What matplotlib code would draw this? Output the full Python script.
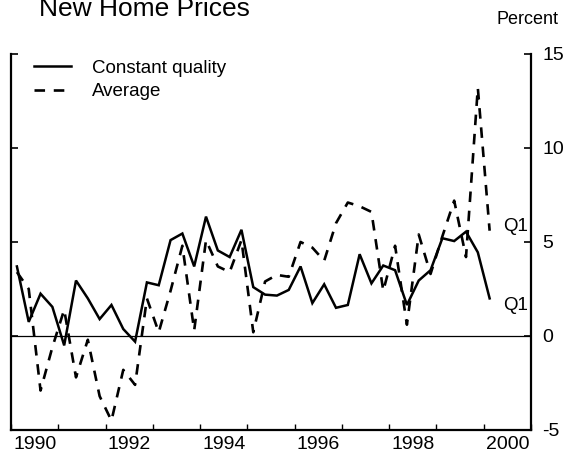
import matplotlib
matplotlib.use("Agg")
import matplotlib.pyplot as plt
from matplotlib.ticker import FixedLocator, NullFormatter, FixedFormatter
import numpy as np

plt.rcParams['font.family'] = ['Liberation Sans', 'DejaVu Sans']
plt.rcParams['axes.unicode_minus'] = False

# ---- data (quarterly, 1990Q1 .. 2000Q1, percent change) ----
years = [1990 + i // 4 for i in range(41)]
quarters = [i % 4 + 1 for i in range(41)]
constant_quality = [3.7, 0.75, 2.25, 1.55, -0.5, 2.95, 2.0, 0.9, 1.65, 0.37,
                    -0.3, 2.85, 2.7, 5.1, 5.45, 3.7, 6.35, 4.55, 4.2, 5.65,
                    2.6, 2.2, 2.15, 2.45, 3.7, 1.75, 2.75, 1.5, 1.65, 4.35,
                    2.8, 3.75, 3.5, 1.65, 2.95, 3.5, 5.2, 5.05, 5.55, 4.45, 2.0]
average = [3.4, 2.5, -2.9, -0.6, 1.4, -2.2, -0.2, -3.2, -4.5, -1.8,
           -2.6, 2.0, 0.2, 2.4, 4.8, 0.3, 5.1, 3.7, 3.4, 5.1,
           0.2, 2.9, 3.25, 3.15, 5.0, 4.7, 4.0, 6.0, 7.1, 6.9,
           6.6, 2.4, 4.8, 0.6, 5.4, 3.3, 5.3, 7.2, 4.2, 13.2, 5.6]
series_labels = ["Constant quality", "Average"]
year_labels = ["1990", "1992", "1994", "1996", "1998", "2000"]
y_ticks = [-5, 0, 5, 10, 15]
end_label = "Q1"

t = np.array(years) + (np.array(quarters) - 0.5) / 4.0

fig = plt.figure(figsize=(5.71, 4.57), dpi=100)
ax = fig.add_axes([11 / 571, 1 - 430 / 457, 520 / 571, 376 / 457])

ax.plot(t, constant_quality, color='black', lw=1.8, solid_joinstyle='miter',
        label=series_labels[0])
ln, = ax.plot(t, average, color='black', lw=1.9, label=series_labels[1])
ln.set_dashes((4.0, 3.3))

ax.axhline(0, color='black', lw=0.9)

ax.set_xlim(1990, 2001)
ax.set_ylim(-5, 15)

# spines
ax.spines['top'].set_visible(False)
for s in ('left', 'right', 'bottom'):
    ax.spines[s].set_linewidth(1.6)

# x ticks: marks at year boundaries, labels at mid-year of even years
ax.xaxis.set_major_locator(FixedLocator(np.arange(1990, 2002)))
ax.xaxis.set_major_formatter(NullFormatter())
ax.xaxis.set_minor_locator(FixedLocator([int(y) + 0.5 for y in year_labels]))
ax.xaxis.set_minor_formatter(FixedFormatter(year_labels))
ax.tick_params(axis='x', which='major', direction='in', length=4, width=1.0)
ax.tick_params(axis='x', which='minor', length=0, pad=4, labelsize=14)

# y ticks on both sides, labels on the right
ax.set_yticks(y_ticks)
ax.set_yticklabels([str(v) for v in y_ticks])
ax.yaxis.set_ticks_position('both')
ax.tick_params(axis='y', direction='in', length=5, width=1.2,
               labelleft=False, labelright=True, pad=8, labelsize=14)

# legend
leg = ax.legend(loc='upper left', bbox_to_anchor=(0.044, 0.985), frameon=False,
                fontsize=13.5, handlelength=2.0, handletextpad=1.1,
                labelspacing=0.35, borderpad=0, borderaxespad=0)

# end-point labels
ax.annotate(end_label, xy=(t[-1], average[-1]), xytext=(10, 3),
            textcoords='offset points', va='center', ha='left', fontsize=13.5)
ax.annotate(end_label, xy=(t[-1], constant_quality[-1]), xytext=(10, -5),
            textcoords='offset points', va='center', ha='left', fontsize=13.5)

# title (partly cut off at top, as in the reference) and unit label
fig.text(39 / 571, 1 - 16 / 457, "New Home Prices", fontsize=19,
         ha='left', va='baseline')
fig.text(528 / 571, 1 - 19 / 457, "Percent", fontsize=13,
         ha='center', va='center')

fig.savefig("out.png", dpi=100)
